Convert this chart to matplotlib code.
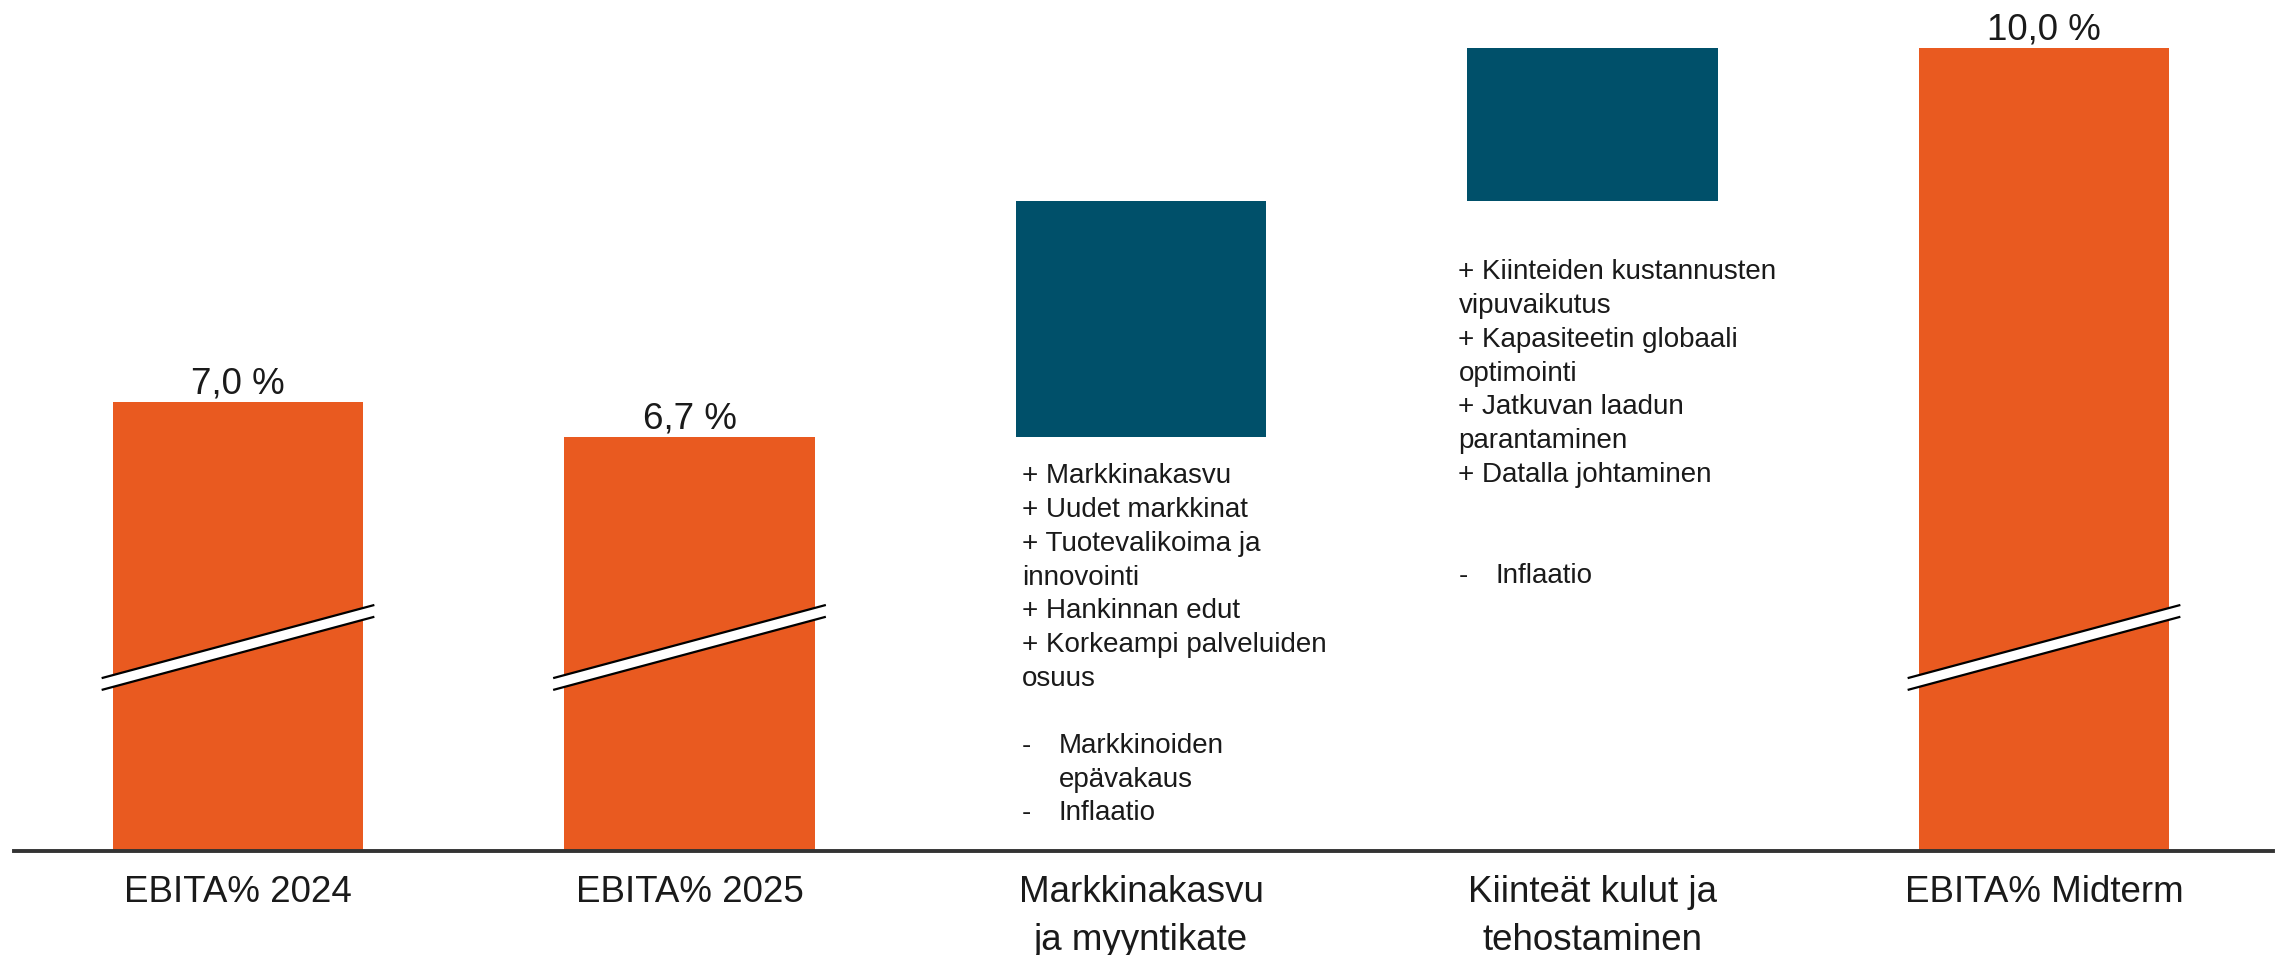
import matplotlib
matplotlib.use("Agg")
import matplotlib.pyplot as plt
from matplotlib.patches import Polygon

# ---------------- data ----------------
categories = ["EBITA% 2024", "EBITA% 2025", "Markkinakasvu\nja myyntikate",
              "Kiinteät kulut ja\ntehostaminen", "EBITA% Midterm"]
kinds = ["total", "total", "delta", "delta", "total"]
values = [7.0, 6.7, 2.0, 1.3, 10.0]
value_labels = ["7,0 %", "6,7 %", "", "", "10,0 %"]

notes_market = ["+ Markkinakasvu", "+ Uudet markkinat", "+ Tuotevalikoima ja",
                "innovointi", "+ Hankinnan edut", "+ Korkeampi palveluiden",
                "osuus", "", "- |Markkinoiden", " |epävakaus", "- |Inflaatio"]
notes_fixed = ["+ Kiinteiden kustannusten", "vipuvaikutus", "+ Kapasiteetin globaali",
               "optimointi", "+ Jatkuvan laadun", "parantaminen",
               "+ Datalla johtaminen", "", "", "- |Inflaatio"]
notes = {2: notes_market, 3: notes_fixed}

# ---------------- style ----------------
ORANGE = "#E95A20"
TEAL = "#00506A"
FONT = "Liberation Sans"
plt.rcParams["font.family"] = [FONT, "DejaVu Sans"]

W, H, DPI = 2277, 955, 100
fig = plt.figure(figsize=(W / DPI, H / DPI), dpi=DPI)
ax_left, ax_right, ax_bottom_px = 14, 2273, 851
ax = fig.add_axes([ax_left / W, 1 - ax_bottom_px / H, (ax_right - ax_left) / W, ax_bottom_px / H])

px_per_x = 451.5
x_lo = -(238 - ax_left) / px_per_x
ax.set_xlim(x_lo, x_lo + (ax_right - ax_left) / px_per_x)
y_floor, y_top = 3.195, 10.407
ax.set_ylim(y_floor, y_top)

bar_w = 0.554
line_h = 33.7
level = 0.0
for i, (kind, v) in enumerate(zip(kinds, values)):
    if kind == "total":
        bottom, top = y_floor, v
        color = ORANGE
        level = v
    else:
        bottom, top = level, level + v
        color = TEAL
        level = top
    ax.bar(i, top - bottom, bottom=bottom, width=bar_w, color=color, zorder=2)

    if kind == "total":
        # axis break marker
        yc, half_rise, half_gap, half_len = 4.92, 0.31, 0.05, 0.302
        x0, x1 = i - half_len, i + half_len
        poly = Polygon([(x0, yc - half_rise + half_gap), (x1, yc + half_rise + half_gap),
                        (x1, yc + half_rise - half_gap), (x0, yc - half_rise - half_gap)],
                       closed=True, facecolor="white", edgecolor="none", zorder=3)
        ax.add_patch(poly)
        for s in (1, -1):
            ax.plot([x0, x1], [yc - half_rise + s * half_gap, yc + half_rise + s * half_gap],
                    color="black", lw=1.6, zorder=4, solid_capstyle="butt")
        ax.annotate(value_labels[i], xy=(i, top), xytext=(0, 9), textcoords="offset pixels",
                    ha="center", va="baseline", fontsize=26.5, color="#1a1a1a")
    else:
        lines = notes[i]
        dx = 6 if i == 2 else -9
        dy0 = 46 if i == 2 else 78
        for k, line in enumerate(lines):
            if not line:
                continue
            y_off = -(dy0 + line_h * k)
            if "|" in line:
                a, b = line.split("|")
                if a.strip():
                    ax.annotate(a.strip(), xy=(i - bar_w / 2, bottom), xytext=(dx, y_off),
                                textcoords="offset pixels", ha="left", va="baseline",
                                fontsize=20, color="#1a1a1a")
                ax.annotate(b, xy=(i - bar_w / 2, bottom), xytext=(dx + 37, y_off),
                            textcoords="offset pixels", ha="left", va="baseline",
                            fontsize=20, color="#1a1a1a")
            else:
                ax.annotate(line, xy=(i - bar_w / 2, bottom), xytext=(dx, y_off),
                            textcoords="offset pixels", ha="left", va="baseline",
                            fontsize=20, color="#1a1a1a")

# category labels
for i, cat in enumerate(categories):
    for k, line in enumerate(cat.split("\n")):
        ax.annotate(line, xy=(i, y_floor), xytext=(0, -(51 + 48 * k)), textcoords="offset pixels",
                    ha="center", va="baseline", fontsize=26.5, color="#1a1a1a",
                    annotation_clip=False)

for side in ("left", "right", "top"):
    ax.spines[side].set_visible(False)
ax.spines["bottom"].set_linewidth(2.8)
ax.spines["bottom"].set_color("#333333")
ax.spines["bottom"].set_zorder(5)
ax.set_xticks([])
ax.set_yticks([])
ax.patch.set_alpha(0)

fig.savefig("out.png", dpi=DPI)
